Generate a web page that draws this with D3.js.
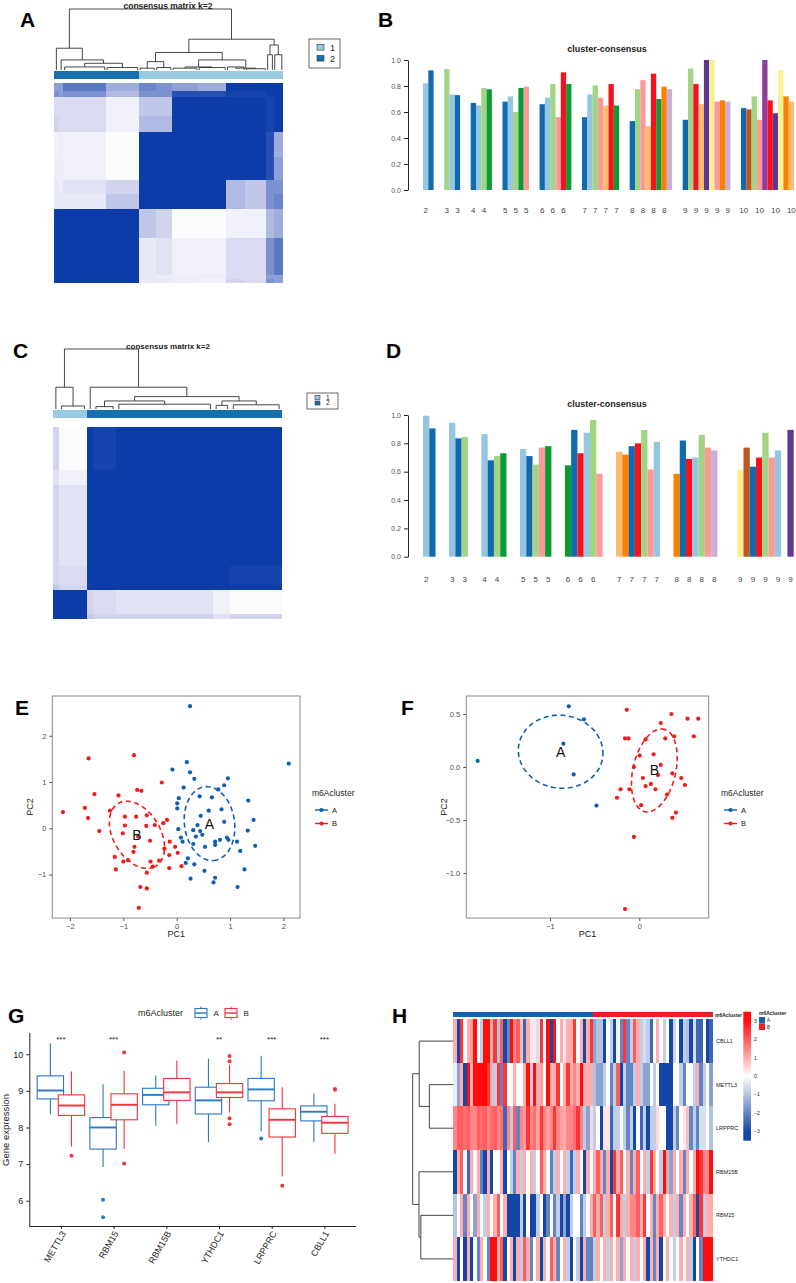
<!DOCTYPE html>
<html>
<head>
<meta charset="utf-8">
<script src="https://cdn.jsdelivr.net/npm/d3@7"></script>
<style>
  body { margin: 0; background: #fff; }
  svg { display: block; }
  text { font-family: "Liberation Sans", Arial, Helvetica, sans-serif; }
</style>
</head>
<body>
<svg id="fig" width="796" height="1283"></svg>
<script>
// ---------- data ----------

// A: consensus matrix k=2, sample blocks in dendrogram order
const segA = ["a1", "a2", "a3", "a4", "b1", "b2", "b3", "b4", "b5", "b6", "b7", "b8"];
const segSizeA = [2, 2, 18, 14, 7, 7, 11, 12, 8, 9, 3, 4];
const segClusterA = [2, 2, 2, 2, 1, 1, 1, 1, 1, 1, 1, 1];
const segHeightA = [0, 0, 0.05, 0.04, 0.03, 0.04, 0.03, 0.04, 0.05, 0.02, 0.25, 0.25];
// upper triangle of the block consensus values
const consA = [
  [0.97, 0.95, 0.95, 0.9, 0.15, 0.15, 0.12, 0.1, 0.3, 0.25, 0.55, 0.5],
  [0.97, 0.93, 0.9, 0.15, 0.12, 0.12, 0.12, 0.25, 0.25, 0.5, 0.5],
  [0.96, 0.92, 0.15, 0.2, 0.1, 0.1, 0.25, 0.25, 0.55, 0.65],
  [0.97, 0.35, 0.3, 0.02, 0.02, 0.1, 0.1, 0.4, 0.45],
  [0.97, 0.92, 0.95, 0.93, 0.4, 0.35, 0.55, 0.6],
  [0.97, 0.95, 0.93, 0.4, 0.35, 0.55, 0.55],
  [0.98, 0.97, 0.95, 0.92, 0.8, 0.5],
  [0.98, 0.95, 0.92, 0.8, 0.45],
  [0.97, 0.93, 0.85, 0.9],
  [0.97, 0.85, 0.9],
  [0.97, 0.9],
  [0.97]
];
const treeA = {h: 1, c: [
  {h: 0.357, c: ["a1", {h: 0.165, c: ["a2", {h: 0.11, c: ["a3", "a4"]}]}]},
  {h: 0.505, c: [
    {h: 0.286, c: [{h: 0.137, c: ["b1", "b2"]}, {h: 0.165, c: [{h: 0.05, c: ["b3", "b4"]}, {h: 0.03, c: ["b5", "b6"]}]}]},
    {h: 0.41, c: ["b7", "b8"]}
  ]}
]};

// C: consensus matrix k=2, second cohort
const segC = ["c1", "c2", "d1", "d2", "d3", "d4", "d5"];
const segSizeC = [1, 5, 1, 4, 17, 3, 9];
const segClusterC = [1, 1, 2, 2, 2, 2, 2];
const segHeightC = [0, 0.05, 0, 0.04, 0.08, 0.06, 0.07];
const consC = [
  [0.95, 0.9, 0.35, 0.3, 0.3, 0.2, 0.3],
  [0.95, 0.3, 0.25, 0.2, 0.1, 0.03],
  [0.97, 0.95, 0.95, 0.95, 0.95],
  [0.97, 0.95, 0.93, 0.85],
  [0.97, 0.93, 0.88],
  [0.97, 0.93],
  [0.97]
];
const treeC = {h: 1, c: [
  {h: 0.363, c: ["c1", "c2"]},
  {h: 0.363, c: ["d1", {h: 0.207, c: [{h: 0.134, c: ["d2", "d3"]}, {h: 0.134, c: ["d4", "d5"]}]}]}
]};

// B / D: cluster-consensus per k
const kB = [2, 3, 4, 5, 6, 7, 8, 9, 10];
const consBarB = [
  [0.82, 0.92],
  [0.93, 0.735, 0.73],
  [0.67, 0.65, 0.785, 0.775],
  [0.68, 0.72, 0.60, 0.785, 0.795],
  [0.66, 0.71, 0.815, 0.56, 0.905, 0.815],
  [0.56, 0.735, 0.805, 0.71, 0.65, 0.815, 0.65],
  [0.53, 0.775, 0.845, 0.49, 0.895, 0.70, 0.795, 0.775],
  [0.54, 0.935, 0.815, 0.66, 1.0, 1.0, 0.68, 0.69, 0.68],
  [0.63, 0.62, 0.72, 0.54, 1.0, 0.69, 0.59, 0.92, 0.72, 0.68]
];
const colBarB = [
  ["lb", "db"],
  ["lg", "lb", "db"],
  ["db", "lb", "lg", "dg"],
  ["db", "lb", "lg", "dg", "pk"],
  ["db", "lb", "lg", "pk", "rd", "dg"],
  ["db", "lb", "lg", "pk", "lo", "rd", "dg"],
  ["db", "lg", "pk", "lo", "rd", "dg", "or", "lv"],
  ["db", "lg", "rd", "lo", "pu", "ye", "pk", "or", "lv"],
  ["db", "br", "lg", "pk", "pm", "rd", "pu", "ye", "or", "lo"]
];
const kD = [2, 3, 4, 5, 6, 7, 8, 9];
const consBarD = [
  [0.995, 0.905],
  [0.945, 0.835, 0.845],
  [0.865, 0.68, 0.71, 0.73],
  [0.76, 0.71, 0.65, 0.77, 0.78],
  [0.645, 0.895, 0.73, 0.875, 0.965, 0.585],
  [0.74, 0.72, 0.78, 0.80, 0.895, 0.615, 0.81],
  [0.585, 0.82, 0.69, 0.70, 0.86, 0.77, 0.75, 0],
  [0.615, 0.77, 0.635, 0.70, 0.875, 0.70, 0.75, 0, 0.895]
];
const colBarD = [
  ["lb", "db"],
  ["lb", "db", "lg"],
  ["lb", "db", "lg", "dg"],
  ["lb", "db", "lg", "pk", "dg"],
  ["dg", "db", "rd", "lb", "lg", "pk"],
  ["lo", "or", "db", "rd", "lg", "pk", "lb"],
  ["or", "db", "rd", "lb", "lg", "pk", "lv", "lo"],
  ["ye", "br", "db", "rd", "lg", "pk", "lb", "lo", "pu"]
];
const clusterPalette = {
  lb: "#95c6e0", db: "#0f6aae", lg: "#a1d584", dg: "#0d9a34", pk: "#fb9a99", rd: "#f5121c",
  lo: "#fdbd6c", or: "#ff7f00", lv: "#c9aed6", pu: "#5f3793", pm: "#8c3d9d", ye: "#f8f191", br: "#c0541f"
};

// E / F: PCA scores
const pcaEA = [
  [0.25, 2.64], [2.1, 1.40], [0.19, 1.43], [-0.08, 1.27], [0.25, 1.21], [0.33, 1.07], [0.96, 1.08],
  [0.89, 0.93], [0.78, 0.84], [0.13, 0.88], [0.43, 0.69], [0.66, 0.67], [1.34, 0.60], [0.04, 0.65],
  [0.01, 0.54], [0.01, 0.43], [0.6, 0.38], [0.84, 0.41], [0.45, 0.27], [1.44, 0.18], [0.03, -0.02],
  [0.39, 0.07], [0.31, -0.04], [0.44, -0.06], [1.33, -0.05], [0.89, 0.14], [0.08, -0.2], [0.11, -0.29],
  [0.36, -0.18], [0.48, -0.14], [0.31, -0.34], [0.53, -0.40], [0.72, -0.29], [0.81, -0.25], [0.94, -0.2],
  [0.97, -0.25], [1.13, -0.29], [1.19, -0.49], [1.47, -0.38], [0.72, -0.36], [0.21, -0.65], [0.17, -0.75],
  [0.33, -0.78], [0.52, -0.92], [1.27, -0.89], [0.26, -1.09], [0.72, -1.07], [0.69, -1.17], [1.14, -1.27]
];
const pcaEB = [
  [-0.8, 1.58], [-1.65, 1.51], [-0.28, 0.99], [-0.74, 0.83], [-0.66, 0.81], [-1.54, 0.74], [-1.09, 0.71],
  [-1.72, 0.44], [-1.25, 0.38], [-2.13, 0.35], [-1.66, 0.22], [-0.97, 0.25], [-0.76, 0.25], [-0.56, 0.28],
  [-0.18, 0.18], [-0.25, 0.11], [-0.97, 0.06], [-0.57, 0.05], [-0.41, 0.07], [-1.45, -0.06], [-1.01, -0.11],
  [-0.72, -0.18], [-0.5, -0.27], [-0.13, -0.29], [-0.23, -0.44], [-0.03, -0.40], [-0.79, -0.40], [-0.81, -0.51],
  [0.02, -0.53], [-1.16, -0.62], [-0.14, -0.58], [-1.0, -0.72], [-0.91, -0.69], [-0.49, -0.72], [-0.33, -0.70],
  [-0.45, -0.83], [-0.14, -0.86], [0.09, -0.82], [-1.14, -0.89], [-0.56, -0.96], [-0.68, -1.27], [-0.56, -1.30],
  [-0.71, -1.72]
];
const pcaFA = [
  [-1.81, 0.057], [-0.79, 0.573], [-0.62, 0.45], [-0.85, 0.22], [-0.735, -0.07], [-0.48, -0.364]
];
const pcaFB = [
  [-0.14, 0.54], [0.36, 0.5], [0.54, 0.456], [0.66, 0.456], [0.24, 0.415], [-0.16, 0.27], [-0.12, 0.27],
  [0.07, 0.26], [0.29, 0.27], [0.39, 0.29], [0.61, 0.29], [0.16, 0.12], [0.004, 0.108], [0.24, 0.02],
  [-0.06, 0], [0.21, -0.076], [0.37, -0.06], [0.04, -0.104], [0.47, -0.104], [0.13, -0.16], [0.07, -0.18],
  [0.51, -0.17], [-0.21, -0.21], [-0.11, -0.21], [0.18, -0.21], [0.31, -0.26], [-0.25, -0.29], [0.02, -0.36],
  [0.41, -0.43], [0.37, -0.48], [-0.06, -0.66], [-0.16, -1.34]
];

// G: boxplot stats [lower whisker, Q1, median, Q3, upper whisker]
const genesG = ["METTL3", "RBM15", "RBM15B", "YTHDC1", "LRPPRC", "CBLL1"];
const boxStatsA = [
  [8.36, 8.78, 9.01, 9.41, 10.3],
  [6.92, 7.41, 8.0, 8.27, 9.18],
  [8.05, 8.62, 8.89, 9.07, 9.42],
  [7.6, 8.37, 8.74, 9.1, 9.88],
  [7.89, 8.73, 9.04, 9.34, 9.96],
  [7.6, 8.18, 8.43, 8.59, 8.93]
];
const boxStatsB = [
  [7.48, 8.33, 8.6, 8.89, 9.53],
  [7.42, 8.21, 8.62, 8.92, 9.55],
  [8.1, 8.74, 8.96, 9.34, 9.83],
  [8.41, 8.82, 8.96, 9.2, 9.71],
  [6.66, 7.74, 8.21, 8.51, 9.1],
  [7.28, 7.84, 8.13, 8.3, 8.65]
];
const outliersA = [[1, 6.03], [1, 5.55], [4, 7.7]];
const outliersB = [[0, 7.23], [1, 10.05], [1, 7.02], [3, 9.95], [3, 9.81], [3, 8.25], [3, 8.09], [4, 6.41], [5, 9.03], [5, 9.05]];
const sigG = ["***", "***", "", "**", "***", "***"];

// H: z-scored expression heatmap
const rowsH = ["CBLL1", "METTL3", "LRPPRC", "RBM15B", "RBM15", "YTHDC1"];
const groupsH = [["A", 42], ["B", 36]];
const hCBLL1 = [1, -3, 2.5, 0, 1, 1.2, 3, 0, -0.8, 3, 3, 1, 2.5, -1, 2, -3, -2, 3, 1.5, 2, 0.8, -2.5, 1, 0.3, 0.3, -0.5, 2.5, 0, 3, -3, 3, 0, 1, 0.3, 1, 1, 2.5, 0, 1, -3, 1, 2.5,
  -1.5, -1, -1, -3, 0, -0.8, -3, 0.2, -2, 2.5, -2, -0.8, 2, 1, -0.8, -0.5, -0.8, -2.5, 0, 1, 0, -0.8, 0, -3, -0.7, 0, -3, -0.8, -1, -3, -0.5, -2.5, -2.5, 0, -3, -2.5];
const hMETTL3 = [-0.3, -1.5, 1, -3, 3, 1, 3, 3, 3, 3, 2.5, 1, -0.8, 2.5, -2, 2.5, 0, 0, 1, 0, 0, 1, 3, -0.8, 3, 1, 1.2, 0, 3, 1, 1, 2.5, 0, 1, 2.5, 1, 1.5, 1, 3, 1, 1, 1,
  -1, -1.5, -1.5, -0.8, 0, -2, -0.8, 2, -3, -0.8, -2, -2, -0.8, 1, -0.8, -1.5, -1.5, 0, -0.8, 0, -3, -3, -3, -3, 0, 0, -0.8, -2, 0, 0, -0.8, 1, -2, -0.8, 0, -1.5];
const hLRPPRC = [1.5, 2, 2, 1.8, 2, 1.5, 1.5, 2, 1.8, 2, 1.5, 1.8, 2, 1.5, 1.8, -2.5, 1.5, -0.8, 2, -2, 1.5, 1.2, 2.5, 1.5, 1.8, 1.2, 2.5, 1.5, 1.2, 1.5, 2.5, 1.5, 1.2, 1, 1.5, 1.5, 1.8, 2.5, 1.5, -0.8, -1.5, 0.5,
  -0.8, 0, -3, 0.3, 0.3, -2.5, -0.8, -0.8, 0, -0.8, -2, -0.8, -3, 0, -2.5, -0.8, -3, -0.8, -0.8, 0.5, 0, 0, -3, -3, -0.8, -2, 0, 0.3, 0.8, -2, -0.8, -2, -0.5, -0.5, 0, -1];
const hRBM15B = [-3, 1, 2, 0, -2.5, 1, 0, 1, -2, -3, 1, -3, 0, 0, 1, -3, 0, -0.8, -2, 1, -0.8, 1, 0, 1, -0.8, 0, 2, 1, 0, -2, -0.8, 1, 0, 1, -0.8, -2.5, -0.8, 1, 0, -3, 1, 0,
  1, 2, 1, -2, 1, -3, 2.5, 1, 2, 0, 1, -2, 1, 2, 0, 1, -0.8, 2.5, 1, 0, -0.8, 3, 1, -1.5, 1, 0, 1, -2, 1, 0, 1, 3, 2.5, 1.5, 1.5, 3];
const hRBM15 = [-1, 0, 1, -2, 1, 0, -1.5, 1, 0, -0.8, 1, 0, 1, 2, 0, 1, -3, -3, -3, -3, -0.8, -3, 0, -3, -3, -0.8, 0, -3, -2, 0, -2, -0.8, -3, -1.5, -3, -0.8, 0, 0, -2, -0.8, 0, 1,
  2, 1, 2, -0.8, 1, 2, 0, 2.5, 1, -0.8, 1, 1.5, 1.5, 2, 1, 2.5, 0, 1, -2, 1, 2, 1, 0, 1, -0.8, 1, -2, 1, 0, 1, 2, -3, 2.5, -0.8, 1, 1];
const hYTHDC1 = [1, -3, 0, -3, 1, -3, 0, -2, 1, 0, -2, 3, 3, 1, 2, -3, 0, 1, -3, 1, -0.8, 2, 1, -2, 0, 1, -3, 1, 0, 2, 1, -2, 0, 1, -0.8, -3, 0, -0.8, -3, 1, -2, -2,
  -0.8, 1, 0, 1, -0.8, 1, 0, 1, -1.5, 1, 0, 1, -0.8, 1, 0, 1, -3, 1, -2, 1, -3, 0, 1, 0, -0.8, 0, 1, 0, 1, -0.8, -3, 0, -2, 3, 3, 3];
const treeH = {h: 1, c: [
  {h: 0.84, c: ["CBLL1", {h: 0.59, c: ["METTL3", "LRPPRC"]}]},
  {h: 0.845, c: ["RBM15B", {h: 0.8, c: ["RBM15", "YTHDC1"]}]}
]};

// ---------- drawing ----------
const svg = d3.select("#fig");
const BLUE = "#0e5fb4", RED = "#f21a1a";
const clusterColor = {1: "#9acbe2", 2: "#1670ae"};

// elbow dendrogram; orient "top" draws heights upward, "left" draws leftward
function drawTree(g, tree, leafPos, leafH, hPos, orient) {
  const root = d3.hierarchy(tree, d => d.c);
  root.eachAfter(n => {
    n.p = n.children ? d3.mean(n.children, c => c.p) : leafPos(n.data);
    n.hh = n.children ? n.data.h : leafH(n.data);
  });
  const pt = (p, h) => orient === "top" ? [p, hPos(h)] : [hPos(h), p];
  const lines = [];
  root.each(n => {
    if (!n.children) return;
    const ps = n.children.map(c => c.p);
    lines.push([pt(d3.min(ps), n.hh), pt(d3.max(ps), n.hh)]);
    n.children.forEach(c => lines.push([pt(c.p, n.hh), pt(c.p, c.hh)]));
  });
  g.selectAll(null).data(lines).join("line")
    .attr("x1", d => d[0][0]).attr("y1", d => d[0][1])
    .attr("x2", d => d[1][0]).attr("y2", d => d[1][1])
    .attr("stroke", "#333").attr("stroke-width", 0.9);
}

function consensusPanel(cfg) {
  const g = svg.append("g");
  const n = cfg.seg.length;
  const total = d3.sum(cfg.size);
  const starts = [0, ...d3.cumsum(cfg.size)];
  const x = d3.scaleLinear([0, total], [cfg.x0, cfg.x1]);
  const yRow = d3.scaleLinear([0, total], [cfg.mBot, cfg.mTop]);
  const h = d3.scaleLinear([0, 1], [cfg.dBot, cfg.dTop]);
  const val = (i, j) => i <= j ? cfg.cons[i][j - i] : cfg.cons[j][i - j];
  const col = d3.scaleLinear([0, 0.3, 0.88], ["#ffffff", "#d2d4ee", "#0b3ca8"]).clamp(true);

  g.append("g").attr("shape-rendering", "crispEdges")
    .selectAll("rect").data(d3.cross(d3.range(n), d3.range(n))).join("rect")
    .attr("x", d => x(starts[d[0]]))
    .attr("width", d => x(starts[d[0] + 1]) - x(starts[d[0]]))
    .attr("y", d => yRow(starts[d[1] + 1]))
    .attr("height", d => yRow(starts[d[1]]) - yRow(starts[d[1] + 1]))
    .attr("fill", d => col(val(d[0], d[1])));

  // cluster colour bar
  g.append("g").attr("shape-rendering", "crispEdges")
    .selectAll("rect").data(d3.range(n)).join("rect")
    .attr("x", i => x(starts[i])).attr("width", i => x(starts[i + 1]) - x(starts[i]))
    .attr("y", cfg.barY0).attr("height", cfg.barY1 - cfg.barY0)
    .attr("fill", i => clusterColor[cfg.cluster[i]]);

  // dendrogram
  const idx = name => cfg.seg.indexOf(name);
  drawTree(g, cfg.tree, s => x((starts[idx(s)] + starts[idx(s) + 1]) / 2), s => cfg.hgt[idx(s)], h, "top");
  // small sub-trees inside leaf blocks
  const br = d3.range(n).filter(i => cfg.size[i] > 1 && cfg.hgt[i] > 0);
  br.forEach(i => {
    const a = x(starts[i] + 0.5), b = x(starts[i + 1] - 0.5), yy = h(cfg.hgt[i]);
    g.append("path").attr("d", `M${a},${h(0)}V${yy}H${b}V${h(0)}`)
      .attr("fill", "none").attr("stroke", "#333").attr("stroke-width", 0.9);
  });

  g.append("text").attr("x", cfg.titleX).attr("y", cfg.titleY).attr("text-anchor", "middle")
    .attr("font-size", cfg.titleSize).attr("font-weight", "bold").attr("fill", "#222").text(cfg.title);

  // legend
  const L = cfg.legend;
  g.append("rect").attr("x", L.x).attr("y", L.y).attr("width", L.w).attr("height", L.h)
    .attr("fill", "#fff").attr("stroke", "#444").attr("stroke-width", 0.8);
  [1, 2].forEach((c, i) => {
    const yy = L.y + L.pad + i * L.step;
    g.append("rect").attr("x", L.x + 8).attr("y", yy - L.sq / 2).attr("width", L.sq).attr("height", L.sq * 0.8)
      .attr("fill", clusterColor[c]).attr("stroke", "#333").attr("stroke-width", 0.6);
    g.append("text").attr("x", L.x + 8 + L.sq + 6).attr("y", yy + L.fs * 0.3).attr("font-size", L.fs)
      .attr("fill", "#222").text(c);
  });
}

function consensusBars(cfg) {
  const g = svg.append("g");
  let slot = 0;
  const bars = [];
  cfg.ks.forEach((k, gi) => {
    if (gi > 0) slot += cfg.gap;
    cfg.vals[gi].forEach((v, bi) => { bars.push({k, v, c: cfg.cols[gi][bi], s: slot}); slot += 1; });
  });
  const x = d3.scaleLinear([0, slot], [cfg.x0, cfg.x1]);
  const y = d3.scaleLinear([0, 1], [cfg.yBot, cfg.yTop]);
  g.append("g").selectAll("rect").data(bars.filter(b => b.v > 0)).join("rect")
    .attr("x", b => x(b.s)).attr("width", b => x(b.s + 1) - x(b.s))
    .attr("y", b => y(b.v)).attr("height", b => y(0) - y(b.v))
    .attr("fill", b => clusterPalette[b.c]);

  const ax = g.append("g").attr("transform", `translate(${cfg.axisX},0)`)
    .call(d3.axisLeft(y).tickValues([0, 0.2, 0.4, 0.6, 0.8, 1]).tickFormat(d3.format(".1f")).tickSize(4).tickSizeOuter(0));
  ax.select(".domain").attr("stroke", "#222");
  ax.selectAll(".tick line").attr("stroke", "#222");
  ax.selectAll(".tick text").attr("font-size", 7).attr("fill", "#555").attr("font-family", '"Liberation Sans Narrow","Liberation Sans",Arial');

  // R drops labels that would collide with the previous one
  let last = -Infinity;
  const shown = [];
  bars.forEach(b => {
    const cx = (x(b.s) + x(b.s + 1)) / 2;
    const w = String(b.k).length * 4.4;
    if (cx - w / 2 >= last + 3) { shown.push({k: b.k, cx}); last = cx + w / 2; }
  });
  g.selectAll("text.lab").data(shown).join("text").attr("class", "lab")
    .attr("x", d => d.cx).attr("y", cfg.labelY).attr("text-anchor", "middle")
    .attr("font-size", 8).attr("fill", "#444").attr("font-family", '"Liberation Sans Narrow","Liberation Sans",Arial')
    .text(d => d.k);

  g.append("text").attr("x", cfg.titleX).attr("y", cfg.titleY).attr("text-anchor", "middle")
    .attr("font-size", 9).attr("font-weight", "bold").attr("fill", "#222").text("cluster-consensus");
}

function covEllipse(pts, k) {
  const mx = d3.mean(pts, p => p[0]), my = d3.mean(pts, p => p[1]);
  const n = pts.length;
  const sxx = d3.sum(pts, p => (p[0] - mx) ** 2) / (n - 1);
  const syy = d3.sum(pts, p => (p[1] - my) ** 2) / (n - 1);
  const sxy = d3.sum(pts, p => (p[0] - mx) * (p[1] - my)) / (n - 1);
  const tr = (sxx + syy) / 2, dd = Math.sqrt(((sxx - syy) / 2) ** 2 + sxy ** 2);
  const l1 = tr + dd, l2 = Math.max(tr - dd, 0);
  const th = 0.5 * Math.atan2(2 * sxy, sxx - syy);
  const out = d3.range(0, 101).map(i => {
    const t = i / 100 * 2 * Math.PI;
    const a = k * Math.sqrt(l1) * Math.cos(t), b = k * Math.sqrt(l2) * Math.sin(t);
    return [mx + a * Math.cos(th) - b * Math.sin(th), my + a * Math.sin(th) + b * Math.cos(th)];
  });
  return {mx, my, path: out};
}

function scatterPanel(cfg) {
  const g = svg.append("g");
  const x = d3.scaleLinear(cfg.xDom, [cfg.x0, cfg.x1]);
  const y = d3.scaleLinear(cfg.yDom, [cfg.y1, cfg.y0]);
  const groups = [{name: "A", pts: cfg.A, c: BLUE}, {name: "B", pts: cfg.B, c: RED}];

  groups.forEach(gr => {
    g.append("g").selectAll("circle").data(gr.pts).join("circle")
      .attr("cx", d => x(d[0])).attr("cy", d => y(d[1])).attr("r", 2.1).attr("fill", gr.c);
  });
  groups.forEach(gr => {
    const e = covEllipse(gr.pts, cfg.k);
    g.append("path").attr("d", d3.line().x(d => x(d[0])).y(d => y(d[1]))(e.path))
      .attr("fill", "none").attr("stroke", gr.c).attr("stroke-width", 1.6).attr("stroke-dasharray", "5,3.5");
    g.append("text").attr("x", x(e.mx)).attr("y", y(e.my) + 5).attr("text-anchor", "middle")
      .attr("font-size", 14).attr("fill", "#111").text(gr.name);
  });

  g.append("rect").attr("x", cfg.x0).attr("y", cfg.y0).attr("width", cfg.x1 - cfg.x0).attr("height", cfg.y1 - cfg.y0)
    .attr("fill", "none").attr("stroke", "#8a8a8a").attr("stroke-width", 1);

  const ax = g.append("g").attr("transform", `translate(0,${cfg.y1})`)
    .call(d3.axisBottom(x).tickValues(cfg.xTicks).tickFormat(cfg.xFmt).tickSize(3).tickSizeOuter(0));
  const ay = g.append("g").attr("transform", `translate(${cfg.x0},0)`)
    .call(d3.axisLeft(y).tickValues(cfg.yTicks).tickFormat(cfg.yFmt).tickSize(3).tickSizeOuter(0));
  [ax, ay].forEach(a => {
    a.select(".domain").remove();
    a.selectAll(".tick line").attr("stroke", "#555");
    a.selectAll(".tick text").attr("font-size", 7.5).attr("fill", "#4d4d4d");
  });
  g.append("text").attr("x", (cfg.x0 + cfg.x1) / 2).attr("y", cfg.y1 + 19).attr("text-anchor", "middle")
    .attr("font-size", 9).attr("fill", "#222").text("PC1");
  g.append("text").attr("transform", `translate(${cfg.x0 - 19},${(cfg.y0 + cfg.y1) / 2}) rotate(-90)`)
    .attr("text-anchor", "middle").attr("font-size", 9).attr("fill", "#222").text("PC2");

  const lg = g.append("g").attr("transform", `translate(${cfg.legX},${cfg.legY})`);
  lg.append("text").attr("x", 0).attr("y", 0).attr("font-size", 8.5).attr("fill", "#222").text("m6Acluster");
  groups.forEach((gr, i) => {
    const yy = 14 + i * 13.5;
    lg.append("line").attr("x1", 3).attr("x2", 16).attr("y1", yy).attr("y2", yy).attr("stroke", gr.c).attr("stroke-width", 1.4);
    lg.append("circle").attr("cx", 9.5).attr("cy", yy).attr("r", 2.1).attr("fill", gr.c);
    lg.append("text").attr("x", 20).attr("y", yy + 2.6).attr("font-size", 7.5).attr("fill", "#222").text(gr.name);
  });
}

// ---- A & C ----
consensusPanel({
  seg: segA, size: segSizeA, cluster: segClusterA, hgt: segHeightA, cons: consA, tree: treeA,
  x0: 54, x1: 283, dTop: 9, dBot: 70, barY0: 71, barY1: 79, mTop: 83, mBot: 283,
  title: "consensus matrix k=2", titleX: 168, titleY: 9, titleSize: 8.5,
  legend: {x: 309, y: 39, w: 31, h: 29, pad: 9, step: 11, sq: 7, fs: 9}
});
consensusPanel({
  seg: segC, size: segSizeC, cluster: segClusterC, hgt: segHeightC, cons: consC, tree: treeC,
  x0: 53, x1: 282, dTop: 349, dBot: 409, barY0: 410, barY1: 418, mTop: 427, mBot: 619,
  title: "consensus matrix k=2", titleX: 168, titleY: 349, titleSize: 8,
  legend: {x: 307, y: 393, w: 31, h: 16, pad: 5, step: 5.5, sq: 5, fs: 6.5}
});

// ---- B & D ----
consensusBars({ks: kB, vals: consBarB, cols: colBarB, gap: 2, x0: 423, x1: 794, yTop: 60, yBot: 190,
  axisX: 408, labelY: 213, titleX: 607, titleY: 52});
consensusBars({ks: kD, vals: consBarD, cols: colBarD, gap: 2.15, x0: 423, x1: 793.7, yTop: 415, yBot: 556.7,
  axisX: 408, labelY: 582, titleX: 607, titleY: 407});

// ---- E & F ----
scatterPanel({A: pcaEA, B: pcaEB, k: 1.0,
  xDom: [-2.33, 2.31], yDom: [-1.94, 2.86], x0: 52.3, x1: 300, y0: 696, y1: 918,
  xTicks: [-2, -1, 0, 1, 2], yTicks: [-1, 0, 1, 2], xFmt: d3.format("d"), yFmt: d3.format("d"),
  legX: 312, legY: 796});
scatterPanel({A: pcaFA, B: pcaFB, k: 1.0,
  xDom: [-1.937, 0.777], yDom: [-1.425, 0.67], x0: 466.3, x1: 708.7, y0: 696, y1: 918,
  xTicks: [-1, 0], yTicks: [-1, -0.5, 0, 0.5], xFmt: d3.format("d"), yFmt: d3.format(".1f"),
  legX: 721, legY: 796});

// ---- G: boxplots ----
(function () {
  const g = svg.append("g");
  const x = d3.scalePoint(genesG, [29.3, 356]).padding(0.6);
  const y = d3.scaleLinear([5.31, 10.58], [1226, 1033]);
  const step = x.step();
  const series = [{name: "A", stats: boxStatsA, out: outliersA, c: "#2a78c6", off: -0.2},
                  {name: "B", stats: boxStatsB, out: outliersB, c: "#f2343a", off: 0.2}];
  const bw = 0.5 * step;
  series.forEach(s => {
    const sg = g.append("g");
    s.stats.forEach((st, i) => {
      const cx = x(genesG[i]) + s.off * step;
      sg.append("line").attr("x1", cx).attr("x2", cx).attr("y1", y(st[0])).attr("y2", y(st[1])).attr("stroke", s.c).attr("stroke-width", 1.1);
      sg.append("line").attr("x1", cx).attr("x2", cx).attr("y1", y(st[3])).attr("y2", y(st[4])).attr("stroke", s.c).attr("stroke-width", 1.1);
      sg.append("rect").attr("x", cx - bw / 2).attr("width", bw).attr("y", y(st[3])).attr("height", y(st[1]) - y(st[3]))
        .attr("fill", "#fff").attr("fill-opacity", 0.85).attr("stroke", s.c).attr("stroke-width", 1.1);
      sg.append("line").attr("x1", cx - bw / 2).attr("x2", cx + bw / 2).attr("y1", y(st[2])).attr("y2", y(st[2]))
        .attr("stroke", s.c).attr("stroke-width", 1.9);
    });
    sg.selectAll("circle").data(s.out).join("circle")
      .attr("cx", d => x(genesG[d[0]]) + s.off * step).attr("cy", d => y(d[1])).attr("r", 2).attr("fill", s.c);
  });

  const ax = g.append("g").attr("transform", "translate(0,1226)")
    .call(d3.axisBottom(x).tickSize(3).tickSizeOuter(0));
  ax.select(".domain").attr("d", "M29.3,0.5H356").attr("stroke", "#222");
  ax.selectAll(".tick line").attr("stroke", "#222");
  ax.selectAll(".tick text").attr("font-size", 9).attr("fill", "#222")
    .attr("text-anchor", "end").attr("transform", "translate(3,4) rotate(-60)").attr("dy", "0.35em").attr("y", 0).attr("x", -2);
  const ay = g.append("g").attr("transform", "translate(29.3,0)")
    .call(d3.axisLeft(y).tickValues([6, 7, 8, 9, 10]).tickFormat(d3.format("d")).tickSize(3).tickSizeOuter(0));
  ay.select(".domain").attr("d", "M0.5,1033V1226").attr("stroke", "#222");
  ay.selectAll(".tick line").attr("stroke", "#222");
  ay.selectAll(".tick text").attr("font-size", 9).attr("fill", "#222");
  g.append("text").attr("transform", "translate(9,1130) rotate(-90)").attr("text-anchor", "middle")
    .attr("font-size", 9.5).attr("fill", "#222").text("Gene expression");

  g.selectAll("text.sig").data(sigG).join("text").attr("class", "sig")
    .attr("x", (d, i) => x(genesG[i])).attr("y", 1042).attr("text-anchor", "middle")
    .attr("font-size", 8).attr("fill", "#222").text(d => d);

  // legend
  g.append("text").attr("x", 138).attr("y", 1016).attr("font-size", 9).attr("fill", "#222").text("m6Acluster");
  series.forEach((s, i) => {
    const kx = 195 + i * 30;
    g.append("line").attr("x1", kx + 6).attr("x2", kx + 6).attr("y1", 1006.5).attr("y2", 1019.5).attr("stroke", s.c).attr("stroke-width", 1);
    g.append("rect").attr("x", kx).attr("y", 1008.5).attr("width", 12).attr("height", 9).attr("fill", "#fff").attr("stroke", s.c).attr("stroke-width", 1.1);
    g.append("line").attr("x1", kx).attr("x2", kx + 12).attr("y1", 1013).attr("y2", 1013).attr("stroke", s.c).attr("stroke-width", 1.4);
    g.append("text").attr("x", kx + 18.5).attr("y", 1016).attr("font-size", 8).attr("fill", "#222").text(s.name);
  });
})();

// ---- H: heatmap ----
(function () {
  const g = svg.append("g");
  const valsH = {CBLL1: hCBLL1, METTL3: hMETTL3, LRPPRC: hLRPPRC, RBM15B: hRBM15B, RBM15: hRBM15, YTHDC1: hYTHDC1};
  const group = groupsH.flatMap(([name, n]) => d3.range(n).map(() => name));
  const x = d3.scaleBand(d3.range(group.length), [453.3, 712.7]);
  const y = d3.scaleBand(rowsH, [1019.3, 1280.7]);
  const col = d3.scaleLinear([-3, 0, 3], ["#1747a6", "#ffffff", "#ff0d0d"]).clamp(true);
  const annoCol = {A: "#1262b4", B: "#ee1c25"};

  const cells = rowsH.flatMap(r => valsH[r].map((v, j) => ({r, j, v})));
  g.append("g").attr("shape-rendering", "crispEdges").selectAll("rect").data(cells).join("rect")
    .attr("x", d => x(d.j)).attr("width", x.bandwidth() + 0.3)
    .attr("y", d => y(d.r)).attr("height", y.bandwidth())
    .attr("fill", d => col(d.v));
  g.append("g").attr("shape-rendering", "crispEdges").selectAll("rect").data(group).join("rect")
    .attr("x", (d, j) => x(j)).attr("width", x.bandwidth() + 0.3).attr("y", 1011.7).attr("height", 5.6)
    .attr("fill", d => annoCol[d]);

  g.selectAll("text.row").data(rowsH).join("text").attr("class", "row")
    .attr("x", 716).attr("y", r => y(r) + y.bandwidth() / 2 + 2).attr("font-size", 5.5).attr("fill", "#222").text(r => r);
  g.append("text").attr("x", 715).attr("y", 1016.5).attr("font-size", 5).attr("font-weight", "bold").attr("fill", "#222").text("m6Acluster");

  drawTree(g, treeH, r => y(r) + y.bandwidth() / 2, () => 0, d3.scaleLinear([0, 1], [453.3, 412.7]), "left");

  // colour key
  const ky = d3.scaleLinear([-3.5, 3.5], [1140.7, 1011.7]);
  const grad = svg.append("defs").append("linearGradient").attr("id", "hkey")
    .attr("x1", 0).attr("x2", 0).attr("y1", 1).attr("y2", 0);
  grad.selectAll("stop").data(d3.range(-3.5, 3.51, 0.5)).join("stop")
    .attr("offset", d => (d + 3.5) / 7).attr("stop-color", d => col(d));
  g.append("rect").attr("x", 743.3).attr("y", 1011.7).attr("width", 7.7).attr("height", 129).attr("fill", "url(#hkey)");
  g.selectAll("text.key").data([3, 2, 1, 0, -1, -2, -3]).join("text").attr("class", "key")
    .attr("x", 754).attr("y", d => ky(d) + 1.8).attr("font-size", 5).attr("fill", "#222").text(d => d3.format("d")(d));

  g.append("text").attr("x", 759).attr("y", 1014.5).attr("font-size", 5).attr("font-weight", "bold").attr("fill", "#222").text("m6Acluster");
  groupsH.forEach(([name], i) => {
    g.append("rect").attr("x", 759).attr("y", 1017 + i * 6.5).attr("width", 6).attr("height", 6.5).attr("fill", annoCol[name]);
    g.append("text").attr("x", 767).attr("y", 1022 + i * 6.5).attr("font-size", 4.5).attr("fill", "#222").text(name);
  });
})();

// panel letters
[["A", 20, 27], ["B", 378, 27], ["C", 13, 358], ["D", 386, 358],
 ["E", 15, 715], ["F", 401, 715], ["G", 8, 1023], ["H", 392, 1023]].forEach(([t, px, py]) => {
  svg.append("text").attr("x", px).attr("y", py).attr("font-size", 21).attr("font-weight", "bold")
    .attr("fill", "#000").text(t);
});
</script>
</body>
</html>
